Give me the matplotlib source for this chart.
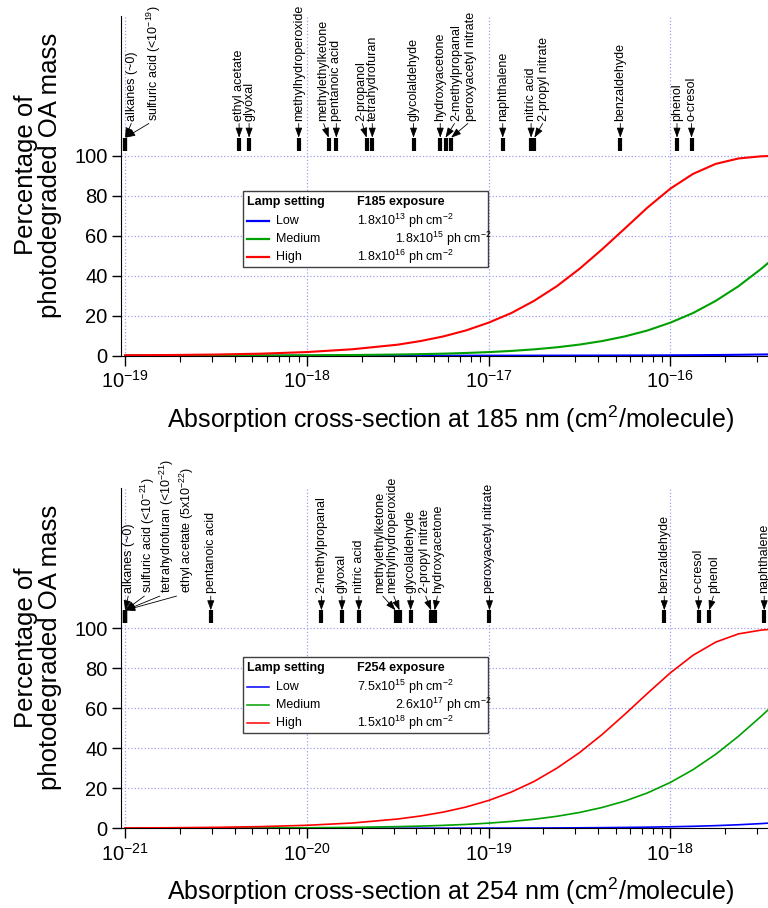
import matplotlib
matplotlib.use('Agg')
import matplotlib.pyplot as plt
import numpy as np
from matplotlib.lines import Line2D
from matplotlib.patches import Rectangle
from matplotlib.ticker import NullFormatter, LogLocator

plt.rcParams['font.family'] = ['Liberation Sans', 'DejaVu Sans']
plt.rcParams['mathtext.fontset'] = 'custom'
plt.rcParams['mathtext.rm'] = 'Liberation Sans'
plt.rcParams['mathtext.it'] = 'Liberation Sans:italic'
plt.rcParams['mathtext.bf'] = 'Liberation Sans:bold'
plt.rcParams['axes.unicode_minus'] = False

# cross-section sample points (log10, cm2/molecule)
exp185 = [-19, -18.75, -18.5, -18.25, -18, -17.75, -17.5, -17.375, -17.25, -17.125, -17,
          -16.875, -16.75, -16.625, -16.5, -16.375, -16.25, -16.125, -16, -15.875,
          -15.75, -15.625, -15.5, -15.462]
exp254 = [-21, -20.75, -20.5, -20.25, -20, -19.75, -19.5, -19.375, -19.25, -19.125, -19,
          -18.875, -18.75, -18.625, -18.5, -18.375, -18.25, -18.125, -18, -17.875,
          -17.75, -17.625, -17.5, -17.462]

# percentage photodegraded
low185 = [0.0, 0.0, 0.0, 0.0, 0.0, 0.0, 0.01, 0.01, 0.01, 0.01, 0.02, 0.02, 0.03, 0.04,
          0.06, 0.08, 0.10, 0.13, 0.18, 0.24, 0.32, 0.43, 0.57, 0.62]
med185 = [0.02, 0.03, 0.06, 0.10, 0.18, 0.32, 0.57, 0.76, 1.0, 1.34, 1.78, 2.37, 3.15,
          4.18, 5.53, 7.31, 9.63, 12.6, 16.5, 21.3, 27.4, 34.7, 43.4, 46.3]
high185 = [0.18, 0.32, 0.57, 1.0, 1.8, 3.2, 5.5, 7.3, 9.6, 12.6, 16.5, 21.3, 27.4, 34.7,
           43.4, 53.2, 63.6, 74.1, 83.5, 90.9, 95.9, 98.6, 99.7, 99.8]

low254 = [0.0, 0.0, 0.0, 0.0, 0.01, 0.01, 0.02, 0.03, 0.04, 0.06, 0.08, 0.10, 0.13, 0.18,
          0.24, 0.32, 0.42, 0.56, 0.75, 0.99, 1.32, 1.76, 2.34, 2.56]
med254 = [0.03, 0.05, 0.08, 0.15, 0.26, 0.46, 0.82, 1.09, 1.45, 1.93, 2.57, 3.41, 4.51,
          5.98, 7.89, 10.4, 13.6, 17.7, 22.9, 29.3, 37.0, 46.0, 56.0, 59.2]
high254 = [0.15, 0.27, 0.47, 0.84, 1.49, 2.63, 4.63, 6.13, 8.08, 10.6, 13.9, 18.1, 23.4,
           30.0, 37.8, 46.9, 57.0, 67.5, 77.7, 86.5, 93.1, 97.2, 99.1, 99.4]

# compound labels: name, log10 cross-section (marker), log10 position of the text
names185 = ['alkanes (~0)', 'sulfuric acid (<10$^{-19}$)', 'ethyl acetate', 'glyoxal',
            'methylhydroperoxide', 'methylethylketone', 'pentanoic acid', '2-propanol',
            'tetrahydrofuran', 'glycolaldehyde', 'hydroxyacetone', '2-methylpropanal',
            'peroxyacetyl nitrate', 'naphthalene', 'nitric acid', '2-propyl nitrate',
            'benzaldehyde', 'phenol', 'o-cresol']
mark185 = [-19.0, -19.0, -18.373, -18.318, -18.045, -17.880, -17.838, -17.671, -17.640,
           -17.413, -17.266, -17.237, -17.206, -16.922, -16.766, -16.748, -16.275,
           -15.963, -15.883]
text185 = [-18.96, -18.844, -18.373, -18.318, -18.045, -17.913, -17.838, -17.700, -17.640,
           -17.413, -17.266, -17.178, -17.096, -16.922, -16.766, -16.693, -16.275,
           -15.963, -15.883]

names254 = ['alkanes (~0)', 'sulfuric acid (<10$^{-21}$)', 'tetrahydrofuran (<10$^{-21}$)',
            'ethyl acetate (5x10$^{-22}$)', 'pentanoic acid', '2-methylpropanal', 'glyoxal',
            'nitric acid', 'methylethylketone', 'methylhydroperoxide', 'glycolaldehyde',
            '2-propyl nitrate', 'hydroxyacetone', 'peroxyacetyl nitrate', 'benzaldehyde',
            'o-cresol', 'phenol', 'naphthalene']
mark254 = [-21.0, -21.0, -21.0, -21.0, -20.529, -19.920, -19.807, -19.714, -19.512,
           -19.490, -19.429, -19.316, -19.297, -18.995, -18.033, -17.844, -17.786, -17.483]
text254 = [-20.98, -20.874, -20.772, -20.662, -20.529, -19.920, -19.807, -19.714, -19.596,
           -19.528, -19.429, -19.352, -19.279, -18.995, -18.033, -17.844, -17.758, -17.483]

levels = ['Low', 'Medium', 'High']
colors = ['#0000ff', '#00a000', '#ff0000']
dose185 = ['1.8x10$^{13}$ ph cm$^{-2}$', '1.8x10$^{15}$ ph cm$^{-2}$', '1.8x10$^{16}$ ph cm$^{-2}$']
dose254 = ['7.5x10$^{15}$ ph cm$^{-2}$', '2.6x10$^{17}$ ph cm$^{-2}$', '1.5x10$^{18}$ ph cm$^{-2}$']

W, H = 768, 908
fig = plt.figure(figsize=(W / 100, H / 100), dpi=100, facecolor='w')


def fx(px):
    return px / W


def fy(py):
    return 1 - py / H


def panel(rect, exps, series, names, marks, texts, xmin, xmax, wl, lw):
    ax = fig.add_axes(rect)
    x = 10.0 ** np.array(exps)
    for ys, c in zip(series, colors):
        ax.plot(x, ys, '-', color=c, lw=lw, zorder=3)
    ax.set_xscale('log')
    ax.set_xlim(xmin, xmax)
    ax.set_ylim(0, 170)
    ax.set_yticks([0, 20, 40, 60, 80, 100])
    ax.xaxis.set_major_locator(LogLocator(base=10, numticks=10))
    ax.xaxis.set_minor_locator(LogLocator(base=10, subs=np.arange(2, 10), numticks=10))
    ax.xaxis.set_minor_formatter(NullFormatter())
    ax.grid(True, which='major', color='#a0a0f0', ls=':', lw=0.9)
    for s in ['top', 'right']:
        ax.spines[s].set_visible(False)
    ax.tick_params(axis='x', which='major', direction='out', length=7.5, width=1,
                   labelsize=14.5, pad=3)
    ax.tick_params(axis='x', which='minor', direction='out', length=4, width=0.8)
    ax.tick_params(axis='y', direction='out', length=6.5, width=1, labelsize=14.5, pad=3)
    ax.set_xlabel('Absorption cross-section at %s nm (cm$^{2}$/molecule)' % wl, fontsize=18)
    ax.xaxis.set_label_coords(0.509, -0.14)
    ax.set_ylabel('Percentage of\nphotodegraded OA mass', fontsize=18.5, linespacing=1.0)
    ax.yaxis.set_label_coords(-0.09, 0.531)

    # compound markers with arrows
    for n, m, t in zip(names, marks, texts):
        xm = 10.0 ** m
        ax.plot([xm, xm], [102.5, 109], color='k', lw=3, solid_capstyle='butt',
                clip_on=False, zorder=4)
        ax.annotate(n, xy=(xm, 109), xytext=(10.0 ** t, 117.5), rotation=90,
                    ha='center', va='bottom', fontsize=9, annotation_clip=False,
                    arrowprops=dict(arrowstyle='-|>,head_length=0.5,head_width=0.18',
                                    mutation_scale=12, color='k', lw=0.6,
                                    shrinkA=0, shrinkB=0, relpos=(0.5, 0)))
    return ax


ax1 = panel([0.157, 0.6083, 0.843, 0.3744], exp185, [low185, med185, high185],
            names185, mark185, text185, 10 ** -19.0253, 3.45e-16, '185', 1.5)
ax2 = panel([0.157, 0.0878, 0.843, 0.3744], exp254, [low254, med254, high254],
            names254, mark254, text254, 10 ** -21.0253, 3.45e-18, '254', 1.2)


def legend_box(top, title2, doses, lw):
    fig.patches.append(Rectangle((fx(243), fy(top + 76)), fx(488) - fx(243),
                                 fy(top) - fy(top + 76), transform=fig.transFigure,
                                 facecolor='w', edgecolor='#404040', lw=1, zorder=5))
    fig.text(fx(247), fy(top + 11), 'Lamp setting', fontsize=9, fontweight='bold',
             va='center', ha='left', zorder=6)
    fig.text(fx(357), fy(top + 11), title2, fontsize=9, fontweight='bold',
             va='center', ha='left', zorder=6)
    rows = [top + 29.5, top + 47.5, top + 66]
    for yy, lab, c, d in zip(rows, levels, colors, doses):
        fig.lines.append(Line2D([fx(247), fx(269)], [fy(yy), fy(yy)], color=c, lw=lw,
                                transform=fig.transFigure, zorder=6))
        fig.text(fx(276), fy(yy), lab, fontsize=9, va='center', ha='left', zorder=6)
        dx = 395 if lab == 'Medium' else 357
        fig.text(fx(dx), fy(yy), d, fontsize=9, va='center', ha='left', zorder=6)


legend_box(191, 'F185 exposure', dose185, 1.6)
legend_box(657, 'F254 exposure', dose254, 1.1)

fig.savefig('out.png', dpi=100)
